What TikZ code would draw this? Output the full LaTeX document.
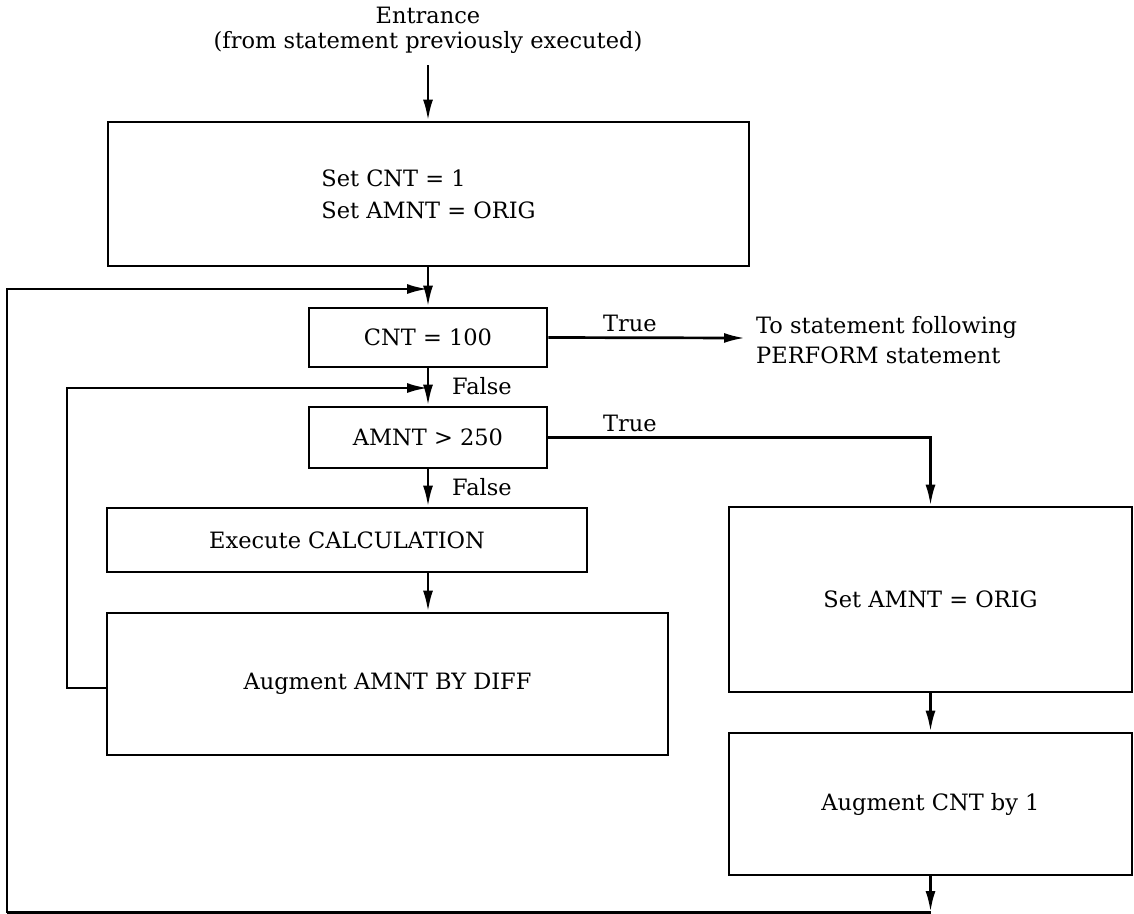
\documentclass[tikz,border=0pt]{standalone}
\usepackage{fontspec}
\setmainfont{DejaVu Serif}
\usetikzlibrary{arrows.meta}
\begin{document}
\begin{tikzpicture}[x=1pt,y=-1pt,
  box/.style={draw, line width=2.7pt, rectangle, inner sep=0pt, font=\fontsize{22.5}{32}\selectfont, align=left},
  lbl/.style={font=\fontsize{22.5}{30}\selectfont, inner sep=0pt},
  conn/.style={line width=2.7pt},
  arr/.style={line width=2.7pt, -{Latex[length=21pt,width=10pt]}},
]
\useasboundingbox (0,0) rectangle (1134,913);

\node[lbl, align=center, font=\fontsize{22.5}{25}\selectfont] (entr) at (428,30) {Entrance\\(from statement previously executed)};
\coordinate (entrtop) at (428,65);

\node[box, minimum width=641pt, minimum height=144pt] (b1) at (428.5,194) {Set CNT = 1\\Set AMNT = ORIG};
\node[box, minimum width=238pt, minimum height=59pt] (cnt) at (428,337.5) {CNT = 100};
\node[box, minimum width=238pt, minimum height=61pt] (amnt) at (428,437.5) {AMNT > 250};
\node[box, minimum width=480pt, minimum height=64pt] (exec) at (347,540) {Execute CALCULATION};
\node[box, minimum width=561pt, minimum height=142pt] (augA) at (387.5,684) {Augment AMNT BY DIFF};
\node[box, minimum width=403pt, minimum height=185pt] (r1) at (930.5,599.5) {Set AMNT = ORIG};
\node[box, minimum width=403pt, minimum height=142pt] (r2) at (930.5,804) {Augment CNT by 1};

\node[lbl] (t1) at (630,323) {True};
\node[lbl, anchor=west, align=left] (tostmt) at (756,340) {To statement following\\PERFORM statement};
\node[lbl, anchor=west] (f1) at (452,386) {False};
\node[lbl] (t2) at (630,423) {True};
\node[lbl, anchor=west] (f2) at (452,487) {False};

\coordinate (j1) at (428,289);
\coordinate (j2) at (428,388);
\coordinate (exit) at (745,338);
\coordinate (bot) at (930.5,912);
\coordinate (bl) at (7,912.8);
\coordinate (br) at (930.5,912.8);
\coordinate (il) at (67,688);

\draw[arr] (entrtop) -- (b1.north -| entrtop);
\draw[arr] (b1.south -| cnt.north) -- (cnt.north);
\draw[arr] (cnt.east) -- (exit);
\draw[arr] (cnt.south) -- (amnt.north);
\draw[arr] (amnt.east) -| (r1.north);
\draw[arr] (amnt.south) -- (amnt.south |- exec.north);
\draw[arr] (amnt.south |- exec.south) -- (amnt.south |- augA.north);
\draw[arr] (r1.south) -- (r2.north);
\draw[arr] (r2.south) -- (bot);
\draw[conn] (br) -- (bl);
\draw[arr] (bl) |- (j1);
\draw[arr] ([yshift=-4pt]augA.west) -- (il) |- (j2);
\end{tikzpicture}
\end{document}
